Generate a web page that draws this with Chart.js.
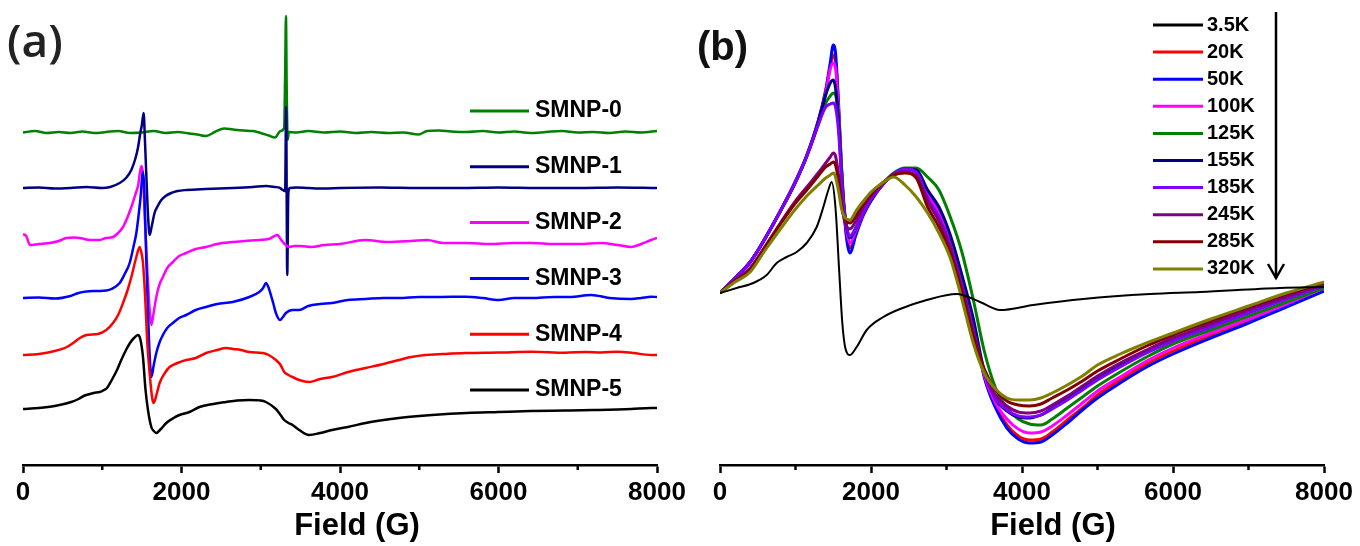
<!DOCTYPE html>
<html>
<head>
<meta charset="utf-8">
<script src="https://cdn.jsdelivr.net/npm/chart.js@4.4.1/dist/chart.umd.min.js"></script>
<style>
html,body{margin:0;padding:0;background:#fff;width:1360px;height:546px;overflow:hidden;}
.wrap{position:absolute;top:0;width:720px;height:546px;}
#wa{left:0;}
#wb{left:640px;}
</style>
</head>
<body>
<div class="wrap" id="wa"><canvas id="ca" width="720" height="546"></canvas></div>
<div class="wrap" id="wb"><canvas id="cb" width="720" height="546"></canvas></div>
<script>
// ---------- shared axis data ----------
const fieldTicks = [0, 2000, 4000, 6000, 8000];
const tickLabels = ['0', '2000', '4000', '6000', '8000'];
const minorTicks = [1000, 3000, 5000, 7000];
const axisTitle = 'Field (G)';

// ---------- panel (a): EPR spectra, [field (G), intensity (a.u.)] ----------
const namesA = ['SMNP-0', 'SMNP-1', 'SMNP-2', 'SMNP-3', 'SMNP-4', 'SMNP-5'];
const colorsA = ['#008000', '#000080', '#ff00ff', '#0000ff', '#ff0000', '#000000'];
const offsetsA = [333, 277, 223, 167, 110, 56];

const smnp0 = [[0,-0.5],[150,1],[300,-1],[450,0],[600,-1],[750,0.5],[900,-1],[1050,0],[1200,1],[1350,-1],[1500,-0.5],[1650,1],[1800,-1],[1950,0],[2100,-1.5],[2200,-2.5],[2310,-4],[2420,0],[2540,3.5],[2650,2.5],[2780,1.5],[2900,1],[3000,-1],[3100,-3.5],[3180,-5.5],[3250,1],[3295,4],[3308,60],[3318,116],[3328,40],[3340,-8],[3355,0],[3450,-0.5],[3600,1],[3800,-0.5],[4000,0.5],[4200,-1],[4400,0],[4600,-1],[4800,-0.5],[4990,-2.5],[5100,1],[5250,1.5],[5400,0.5],[5600,0],[5800,1],[6000,-0.5],[6200,0.5],[6400,-1],[6600,0],[6800,1],[7000,-0.5],[7200,0],[7400,-1],[7600,0.5],[7800,-0.5],[8000,1]];
const smnp1 = [[0,0],[200,0.5],[400,-0.5],[600,0],[800,1],[1000,0],[1100,1],[1220,5],[1300,10],[1367,18],[1420,30],[1450,40],[1480,55],[1500,63],[1522,75],[1540,45],[1560,5],[1578,-28],[1598,-47],[1625,-38],[1660,-25],[1700,-18],[1745,-12],[1800,-8],[1870,-5],[1950,-3],[2060,-2],[2300,-1],[2650,0],[2900,1],[3065,2],[3180,1],[3235,0.3],[3280,-2],[3308,-3],[3320,81],[3334,-87],[3348,-5],[3365,0],[3450,0.5],[3600,0],[3800,-0.5],[4000,0],[4500,0.5],[5000,0],[5500,0],[6000,0.5],[6500,0],[7000,0],[7500,0.5],[8000,0]];
const smnp2 = [[0,8],[40,6],[90,-3],[200,-2],[340,-1],[450,1],[550,4],[650,4.5],[717,4],[850,2],[969,2],[1050,4],[1136,5],[1200,9],[1262,15],[1320,25],[1367,35],[1420,48],[1451,56],[1493,76],[1510,70],[1540,20],[1570,-30],[1600,-70],[1619,-83],[1650,-70],[1682,-55],[1720,-43],[1765,-35],[1820,-26],[1891,-20],[1970,-14],[2059,-11],[2180,-7],[2311,-5],[2450,-2],[2646,0],[2800,1],[2981,2],[3100,3],[3212,7],[3250,3],[3290,-1],[3359,-5],[3420,-4],[3500,-4],[3640,-5],[3800,-3],[4000,-2],[4315,2],[4600,0],[4900,1],[5100,2],[5300,-1],[5600,-1],[5890,-2],[6200,-1],[6416,-1],[6700,-2],[7010,-2],[7300,-1],[7500,-3],[7674,-5],[7800,-2],[7925,2],[8000,4]];
const smnp3 = [[0,0],[200,0.5],[400,-0.5],[600,2],[700,5],[800,6.5],[945,7],[1050,7.5],[1115,9],[1220,15],[1283,24],[1346,35],[1396,52],[1430,65],[1480,98],[1514,126],[1530,110],[1555,40],[1580,-20],[1600,-60],[1619,-79],[1650,-67],[1682,-55],[1720,-45],[1765,-37],[1820,-30],[1891,-25],[1970,-20],[2059,-17],[2180,-12],[2311,-9],[2450,-6],[2646,-4],[2856,1],[2981,6],[3030,10],[3065,15],[3100,10],[3128,3],[3160,-6],[3191,-15],[3242,-22],[3280,-19],[3317,-15],[3400,-12],[3485,-12],[3600,-8],[3750,-6],[3900,-5],[4100,-2],[4324,-1],[4550,0],[4743,0],[5000,1],[5250,1],[5582,1.3],[5800,0],[6001,-2],[6200,0],[6420,0],[6700,1],[6900,1],[7170,3],[7400,0],[7674,-1],[7800,0],[7925,1.3],[8000,1]];
const smnp4 = [[0,0],[200,1],[400,4],[553,8],[650,13],[717,17],[800,20],[945,21],[1050,25],[1136,32],[1200,40],[1262,52],[1320,65],[1367,78],[1430,98],[1472,108],[1500,100],[1514,92],[1540,60],[1570,10],[1600,-20],[1630,-43],[1648,-48],[1690,-38],[1724,-28],[1790,-18],[1850,-12],[1950,-8],[2059,-5],[2180,-3],[2311,2],[2450,5],[2562,7],[2650,6],[2750,5],[2856,3],[3023,2],[3100,0],[3191,-5],[3250,-10],[3296,-17],[3350,-20],[3401,-22],[3485,-25],[3610,-27],[3750,-24],[3900,-22],[4100,-17],[4324,-13],[4550,-9],[4743,-5],[4900,-2],[5078,0],[5300,1],[5582,2],[6000,2.5],[6420,3.3],[6839,2.3],[7100,3],[7300,2.5],[7510,3.3],[7700,2],[7925,0],[8000,0]];
const smnp5 = [[0,0],[200,1],[400,3],[609,7],[700,10],[778,13.5],[890,16],[969,17],[1000,18],[1060,21],[1120,29],[1180,38],[1240,49],[1300,59],[1350,66],[1400,71],[1450,74],[1480,70],[1514,52],[1545,20],[1577,-1],[1619,-18],[1650,-22],[1682,-24],[1740,-20],[1808,-14],[1900,-9],[1975,-6],[2100,-3],[2227,2],[2400,5],[2562,7],[2700,8.5],[2856,9],[3000,8.5],[3065,7],[3191,0],[3250,-6],[3296,-11],[3350,-14],[3401,-16],[3485,-21],[3610,-26],[3750,-24],[3900,-21],[4100,-18],[4324,-14],[4550,-11],[4743,-9],[5000,-7],[5160,-6],[5600,-4],[6001,-3],[6400,-2],[6839,-1.5],[7200,-1],[7674,0],[7925,1],[8000,1]];
const seriesA = [smnp0, smnp1, smnp2, smnp3, smnp4, smnp5];

// ---------- panel (b): temperature series, intensity (a.u.) ----------
const namesB = ['3.5K', '20K', '50K', '100K', '125K', '155K', '185K', '245K', '285K', '320K'];
const colorsB = ['#000000', '#ff0000', '#0000ff', '#ff00ff', '#008000', '#000080', '#8000ff', '#800080', '#800000', '#808000'];

const fieldK35 = [0,221,441,618,751,883,1016,1148,1281,1369,1435,1479,1530,1580,1620,1660,1722,1810,1943,2163,2384,2738,3135,3444,3709,4150,4812,5695,6358,7417,8000];
const k35 = [0,5,10,18,30,36,41,50,66,86,103,111,85,20,-30,-55,-62,-54,-37,-24,-16,-7,-1,-9,-17,-12,-6,-1,1,5,6];

const fieldB = [0,200,400,600,800,1000,1150,1300,1400,1460,1500,1530,1570,1610,1650,1720,1800,1900,2000,2150,2300,2450,2600,2750,2900,3050,3200,3350,3500,3650,3800,3950,4100,4250,4400,4600,4800,5000,5300,5650,6000,6500,7000,7500,8000];
const k20  = [0,15,31,55,82,111,137,171,201,226,238,232,185,122,76,45,60,79,93,108,119,124,122,100,82,54,15,-29,-83,-113,-132,-143,-147,-146,-139,-127,-115,-102,-87,-71,-58,-42,-27,-12,6];
const k50  = [0,15,31,55,82,112,138,172,203,230,248,240,190,125,75,40,58,78,92,108,119,124,122,101,83,55,16,-28,-84,-115,-135,-146,-150,-149,-142,-130,-117,-105,-90,-74,-61,-45,-30,-14,2];
const k100 = [0,15,31,55,82,111,137,170,200,224,230,225,182,120,78,50,62,80,94,108,119,124,121,98,80,52,13,-31,-82,-110,-126,-136,-140,-139,-133,-122,-110,-98,-84,-68,-55,-40,-26,-11,5];
const k125 = [0,15,31,55,82,111,137,168,190,197,200,198,175,125,82,56,66,82,95,109,120,125,125,116,103,76,42,-5,-58,-95,-115,-126,-131,-132,-126,-115,-104,-93,-79,-64,-51,-37,-23,-9,5];
const k155 = [0,15,31,55,82,111,137,170,198,210,213,205,172,118,80,55,64,81,94,108,119,124,123,103,86,58,19,-24,-78,-106,-118,-124,-125,-122,-115,-105,-95,-85,-72,-58,-46,-31,-17,-3,8];
const k185 = [0,15,31,55,82,111,137,168,186,189,190,186,162,115,80,57,65,81,94,108,119,124,121,95,76,48,9,-35,-80,-105,-117,-123,-124,-122,-116,-107,-97,-87,-74,-60,-48,-34,-20,-6,7];
const k245 = [0,13,25,47,70,92,106,120,130,136,140,137,118,90,72,64,72,86,97,109,118,121,117,92,72,45,6,-38,-78,-102,-113,-119,-120,-118,-112,-103,-93,-83,-70,-57,-45,-31,-17,-4,9];
const k285 = [0,12,23,46,69,90,103,117,126,129,131,128,112,88,75,70,77,89,99,110,118,120,115,86,66,40,2,-42,-76,-97,-108,-112,-113,-111,-105,-97,-88,-78,-66,-53,-42,-28,-14,-1,10];
const k320 = [0,11,21,43,64,84,97,108,115,118,120,116,102,84,76,73,82,92,101,110,116,108,96,80,60,35,-5,-49,-80,-96,-105,-107,-107,-105,-100,-92,-83,-72,-61,-50,-40,-26,-13,0,11];
const seriesB = [k20, k50, k100, k125, k155, k185, k245, k285, k320];

// ---------- decorations plugin (minor ticks, axis title, panel label, legend) ----------
const decor = {
  id: 'decor',
  afterDraw(chart, args, o) {
    const ctx = chart.ctx, xs = chart.scales.x;
    ctx.save();
    ctx.strokeStyle = '#000';
    ctx.lineWidth = 2.5;
    minorTicks.forEach(v => {
      const px = xs.getPixelForValue(v);
      ctx.beginPath(); ctx.moveTo(px, xs.top); ctx.lineTo(px, xs.top + 5); ctx.stroke();
    });
    ctx.fillStyle = '#000';
    ctx.font = 'bold 31px Arial, "Liberation Sans", sans-serif';
    ctx.textAlign = 'center'; ctx.textBaseline = 'middle';
    ctx.fillText(axisTitle, (xs.left + xs.right) / 2 + o.titleShift, o.titleY);
    ctx.font = o.panelFont; ctx.fillStyle = o.panelColor;
    ctx.textAlign = 'left'; ctx.textBaseline = 'alphabetic';
    ctx.fillText(o.panel, o.panelX, o.panelY);
    const L = o.legend;
    ctx.font = L.font; ctx.textBaseline = 'middle'; ctx.fillStyle = '#000';
    L.names.forEach((n, i) => {
      const y = L.y0 + i * L.dy;
      ctx.strokeStyle = L.colors[i]; ctx.lineWidth = 3;
      ctx.beginPath(); ctx.moveTo(L.x1, y); ctx.lineTo(L.x2, y); ctx.stroke();
      ctx.fillText(n, L.tx, y);
    });
    if (o.arrow) {
      const a = o.arrow;
      ctx.strokeStyle = '#000'; ctx.lineWidth = 2.5;
      ctx.beginPath(); ctx.moveTo(a.x, a.y1); ctx.lineTo(a.x, a.y2); ctx.stroke();
      ctx.beginPath(); ctx.moveTo(a.x - 8, a.y2 - 14); ctx.lineTo(a.x, a.y2); ctx.lineTo(a.x + 8, a.y2 - 14); ctx.stroke();
    }
    ctx.restore();
  }
};

function xScale() {
  return {
    type: 'linear', min: 0, max: 8000,
    afterBuildTicks: s => { s.ticks = fieldTicks.map(v => ({ value: v })); },
    afterFit: s => { s.height = 81; },
    ticks: {
      autoSkip: false, maxRotation: 0, padding: 4, color: '#000',
      font: { family: 'Arial, "Liberation Sans", sans-serif', size: 26, weight: 'bold' },
      callback: v => tickLabels[fieldTicks.indexOf(v)]
    },
    grid: { display: true, drawOnChartArea: false, drawTicks: true, tickLength: 8, tickColor: '#000', tickWidth: 2.5 },
    border: { display: true, color: '#000', width: 2.5 }
  };
}

Chart.defaults.animation = false;

new Chart(document.getElementById('ca'), {
  type: 'line',
  data: {
    datasets: seriesA.map((s, i) => ({
      label: namesA[i],
      data: s.map(p => ({ x: p[0], y: p[1] + offsetsA[i] })),
      borderColor: colorsA[i], borderWidth: 2.5, pointRadius: 0,
      cubicInterpolationMode: 'monotone', fill: false, order: 6 - i
    }))
  },
  options: {
    responsive: false, animation: false,
    layout: { padding: { left: 23, right: 63, top: 0, bottom: 0 } },
    scales: { x: xScale(), y: { type: 'linear', min: 0, max: 465, display: false } },
    plugins: {
      legend: { display: false }, tooltip: { enabled: false },
      decor: {
        titleShift: 17, titleY: 526,
        panel: '(a)', panelFont: '600 46px "Open Sans", sans-serif', panelColor: '#222', panelX: 7, panelY: 57,
        legend: { names: namesA, colors: colorsA, font: 'bold 23px Arial, "Liberation Sans", sans-serif',
                  x1: 470, x2: 529, tx: 535, y0: 111, dy: 55.8 }
      }
    }
  },
  plugins: [decor]
});

const dsB = seriesB.map((s, i) => ({
  label: namesB[i + 1],
  data: s.map((v, j) => ({ x: fieldB[j], y: v })),
  borderColor: colorsB[i + 1], borderWidth: 3, pointRadius: 0,
  cubicInterpolationMode: 'monotone', fill: false, order: 9 - i
}));
dsB.unshift({
  label: namesB[0],
  data: k35.map((v, j) => ({ x: fieldK35[j], y: v })),
  borderColor: colorsB[0], borderWidth: 2, pointRadius: 0,
  cubicInterpolationMode: 'monotone', fill: false, order: 0
});

new Chart(document.getElementById('cb'), {
  type: 'line',
  data: { datasets: dsB },
  options: {
    responsive: false, animation: false,
    layout: { padding: { left: 80, right: 36, top: 0, bottom: 0 } },
    scales: { x: xScale(), y: { type: 'linear', min: -172, max: 293, display: false } },
    plugins: {
      legend: { display: false }, tooltip: { enabled: false },
      decor: {
        titleShift: 31, titleY: 526,
        panel: '(b)', panelFont: 'bold 40px Arial, "Liberation Sans", sans-serif', panelColor: '#111', panelX: 57, panelY: 60,
        legend: { names: namesB, colors: colorsB, font: 'bold 20px Arial, "Liberation Sans", sans-serif',
                  x1: 513, x2: 563, tx: 567, y0: 25, dy: 27.1 },
        arrow: { x: 636, y1: 12, y2: 278 }
      }
    }
  },
  plugins: [decor]
});
</script>
</body>
</html>
